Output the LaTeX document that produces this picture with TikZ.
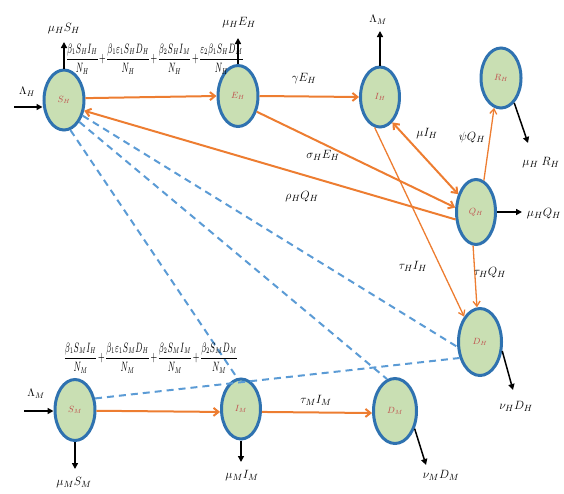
\documentclass[tikz,border=0pt]{standalone}
\usepackage{graphicx}
\usetikzlibrary{shapes.geometric,arrows.meta}
\definecolor{cfill}{HTML}{C9DFB3}
\definecolor{cborder}{HTML}{2F72B0}
\definecolor{corange}{HTML}{ED7D31}
\definecolor{cdash}{HTML}{5B9BD5}
\definecolor{cname}{HTML}{C0504D}
\tikzset{
  comp/.style={ellipse, draw=cborder, fill=cfill, line width=3pt, inner sep=0pt,
    minimum width=40pt, minimum height=60pt, text=cname, font=\fontsize{9}{10}\selectfont},
  flow/.style={draw=corange, line width=2pt, -{Straight Barb[length=5pt,width=8pt]}},
  bflow/.style={draw=corange, line width=2pt, {Straight Barb[length=5pt,width=8pt]}-{Straight Barb[length=5pt,width=8pt]}},
  thinflow/.style={draw=corange, line width=1.3pt, -{Straight Barb[length=5pt,width=7pt]}},
  outflow/.style={draw=black, line width=1.5pt, -{Triangle[length=6pt,width=6pt]}},
  contact/.style={draw=cdash, line width=2pt, dash pattern=on 7pt off 5pt},
  lab/.style={font=\fontsize{13}{15}\selectfont, inner sep=0pt},
  slab/.style={font=\fontsize{11}{13}\selectfont, inner sep=0pt},
  frac/.style={font=\fontsize{7.8}{10}\selectfont, inner sep=0pt}
}
\begin{document}
\begin{tikzpicture}[x=1pt,y=-1pt]
\useasboundingbox (0,0) rectangle (564,493);
% compartments
\node[comp] (SH) at (64,100) {$S_H$};
\node[comp, minimum height=61pt] (EH) at (238,96) {$E_H$};
\node[comp, minimum width=39pt] (IH) at (380,97) {$I_H$};
\node[comp] (RH) at (501,78) {$R_H$};
\node[comp, minimum width=39pt, minimum height=65pt] (QH) at (476,212) {$Q_H$};
\node[comp, minimum width=43pt, minimum height=67pt] (DH) at (480,342) {$D_H$};
\node[comp, minimum height=61pt] (SM) at (75,410) {$S_M$};
\node[comp, minimum width=39pt] (IM) at (241,409) {$I_M$};
\node[comp, minimum width=43pt, minimum height=65pt] (DM) at (395,411) {$D_M$};
% free ends
\coordinate (inH) at (14,107);
\coordinate (inM) at (24,411);
\coordinate (oSH) at (64,42);
\coordinate (oEH) at (238,38);
\coordinate (oIH) at (380,31);
\coordinate (oRH) at (528,143);
\coordinate (oQH) at (522,212);
\coordinate (oDH) at (513,390);
\coordinate (oDM) at (426,465);
\coordinate (oSM) at (75,469);
\coordinate (oIM) at (241,462);
% contact lines
\draw[contact] (SH.-78) -- (IM.97);
\draw[contact] (SH.-55) -- (DM.104);
\draw[contact] (SH.-40) -- (DH.192);
\draw[contact] (SM.30) -- (DH.218);
% flows
\draw[flow] (SH.5) -- (EH.west);
\draw[flow] (EH.east) -- (IH.west);
\draw[flow] (EH.-40) -- (QH.168);
\draw[flow] (QH.200) -- (SH.-28);
\draw[bflow] (IH.-64) -- (QH.135);
\draw[thinflow] (IH.-100) -- (DH.122);
\draw[thinflow] (QH.-95) -- (DH.95);
\draw[thinflow] (QH.76) -- (RH.-103);
\draw[flow] (SM.-2) -- (IM.188);
\draw[flow] (IM.-8) -- (DM.185);
% in and out
\draw[outflow] (inH) -- (inH -| SH.west);
\draw[outflow] (inM) -- (inM -| SM.west);
\draw[outflow] (SH.north) -- (oSH);
\draw[outflow] (EH.north) -- (oEH);
\draw[outflow] (IH.north) -- (oIH);
\draw[outflow] (RH.-62) -- (oRH);
\draw[outflow] (QH.east) -- (oQH);
\draw[outflow] (DH.-22) -- (oDH);
\draw[outflow] (DM.-42) -- (oDM);
\draw[outflow] (SM.south) -- (oSM);
\draw[outflow] (IM.south) -- (oIM);
% labels
\node[slab] (lLH) at (27,92) {$\Lambda_H$};
\node[slab] (lLM) at (36,394) {$\Lambda_M$};
\node[slab] (lLM2) at (378,20) {$\Lambda_M$};
\node[lab] (lmuSH) at (64,29) {$\mu_H S_H$};
\node[lab] (lmuEH) at (239,23) {$\mu_H E_H$};
\node[lab] (lgam) at (304,79) {$\gamma E_H$};
\node[lab] (lmuI) at (427,134) {$\mu I_H$};
\node[lab] (lpsi) at (472,137) {$\psi Q_H$};
\node[lab] (lmuRH) at (541,163) {$\mu_H\;R_H$};
\node[lab] (lmuQH) at (544,214) {$\mu_H Q_H$};
\node[lab] (lsig) at (323,155) {$\sigma_H E_H$};
\node[lab] (lrho) at (302,197) {$\rho_H Q_H$};
\node[lab] (ltauI) at (413,266) {$\tau_H I_H$};
\node[lab] (ltauQ) at (490,273) {$\tau_H Q_H$};
\node[lab] (lnuH) at (516,406) {$\nu_H D_H$};
\node[lab] (lnuM) at (441,475) {$\nu_M D_M$};
\node[lab] (ltauM) at (316,400) {$\tau_M I_M$};
\node[lab] (lmuIM) at (242,476) {$\mu_M I_M$};
\node[lab] (lmuSM) at (74,483) {$\mu_M S_M$};
\node[frac] (fH) at (155,59) {\scalebox{1}[1.7]{$\medmuskip=1mu\displaystyle\frac{\beta_1 S_H I_H}{N_H}+\frac{\beta_1\varepsilon_1 S_H D_H}{N_H}+\frac{\beta_2 S_H I_M}{N_H}+\frac{\varepsilon_2\beta_1 S_H D_M}{N_H}$}};
\node[frac] (fM) at (151,358) {\scalebox{1}[1.7]{$\medmuskip=1mu\displaystyle\frac{\beta_1 S_M I_H}{N_M}+\frac{\beta_1\varepsilon_1 S_M D_H}{N_M}+\frac{\beta_2 S_M I_M}{N_M}+\frac{\beta_2 S_M D_M}{N_M}$}};
\end{tikzpicture}
\end{document}
